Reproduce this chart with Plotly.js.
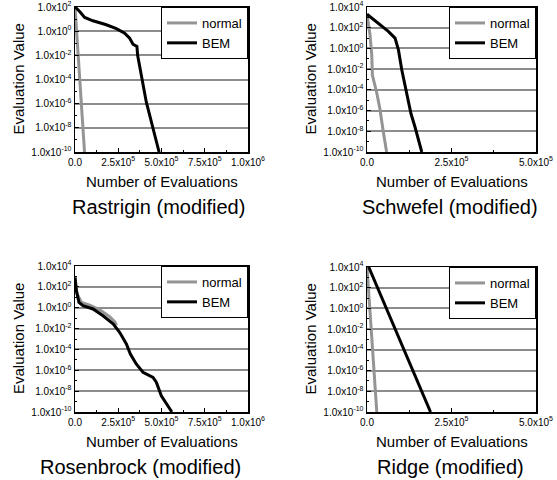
<!DOCTYPE html>
<html>
<head>
<meta charset="utf-8">
<script src="https://cdn.plot.ly/plotly-3.0.1.min.js"></script>
<style>html,body{margin:0;padding:0;background:#fff;}#chart{width:557px;height:480px;}</style>
</head>
<body>
<div id="chart"></div>
<script>
// ---- Data ----
const panelNames = ['Rastrigin (modified)', 'Schwefel (modified)', 'Rosenbrock (modified)', 'Ridge (modified)'];
const seriesNames = ['normal', 'BEM'];

const rastriginNormalX = [0, 55000];
const rastriginNormalY = [1e2, 1e-10];
const rastriginBemX = [0, 27000, 56000, 104000, 181000, 239000, 287000, 316000, 335000, 358000, 362000, 412000, 486000];
const rastriginBemY = [1e2, 42.7, 13.8, 7.2, 3.4, 1.6, 0.69, 0.26, 0.083, 0.054, 0.01, 1.4e-6, 1e-10];

const schwefelNormalX = [0, 8900, 14000, 16000, 29000, 38000, 48000, 58000];
const schwefelNormalY = [2000, 20, 0.25, 2.5e-3, 5e-5, 1.6e-6, 1e-8, 1e-10];
const schwefelBemX = [0, 33000, 63000, 83000, 93000, 103000, 112000, 122000, 130000, 142000, 162000];
const schwefelBemY = [2000, 280, 44, 10, 0.72, 8.3e-3, 2.9e-4, 6.9e-6, 5.2e-7, 2.6e-8, 1e-10];

const rosenbrockNormalX = [0, 12000, 37000, 85000, 143000, 200000, 230000, 240000];
const rosenbrockNormalY = [800, 21, 3.3, 1.8, 0.63, 0.14, 0.045, 0.02];
const rosenbrockBemX = [0, 7700, 23000, 46000, 104000, 162000, 220000, 258000, 297000, 320000, 354000, 393000, 451000, 470000, 499000, 560000];
const rosenbrockBemY = [800, 43, 3.3, 1.55, 0.76, 0.17, 0.028, 4.4e-3, 3.3e-4, 3.6e-5, 4e-6, 6.5e-7, 2.1e-7, 7.1e-8, 3.6e-9, 1e-10];

const ridgeNormalX = [0, 29000];
const ridgeNormalY = [1e4, 1e-10];
const ridgeBemX = [5000, 188000];
const ridgeBemY = [1e4, 1e-10];

// tick values / labels
const yTickVals4 = [1e4, 1e2, 1e0, 1e-2, 1e-4, 1e-6, 1e-8, 1e-10];
const yTickText4 = ['1.0x10<sup>4</sup>', '1.0x10<sup>2</sup>', '1.0x10<sup>0</sup>', '1.0x10<sup>-2</sup>', '1.0x10<sup>-4</sup>', '1.0x10<sup>-6</sup>', '1.0x10<sup>-8</sup>', '1.0x10<sup>-10</sup>'];
const yTickVals2 = [1e2, 1e0, 1e-2, 1e-4, 1e-6, 1e-8, 1e-10];
const yTickText2 = ['1.0x10<sup>2</sup>', '1.0x10<sup>0</sup>', '1.0x10<sup>-2</sup>', '1.0x10<sup>-4</sup>', '1.0x10<sup>-6</sup>', '1.0x10<sup>-8</sup>', '1.0x10<sup>-10</sup>'];
const yMinorVals = [1e3, 1e1, 1e-1, 1e-3, 1e-5, 1e-7, 1e-9];
const xTickVals1M = [0, 250000, 500000, 750000, 1000000];
const xTickText1M = ['0.0', '2.5x10<sup>5</sup>', '5.0x10<sup>5</sup>', '7.5x10<sup>5</sup>', '1.0x10<sup>6</sup>'];
const xMinor1M = [125000, 375000, 625000, 875000];
const xTickVals500k = [0, 250000, 500000];
const xTickText500k = ['0.0', '2.5x10<sup>5</sup>', '5.0x10<sup>5</sup>'];
const xMinor500k = [125000, 375000];

const xTitle = 'Number of Evaluations';
const yTitle = 'Evaluation Value';

// ---- Styling / layout ----
const W = 557, H = 480;
const FONT = 'Liberation Sans, Arial, sans-serif';
const grayCol = '#949494';
const panels = [
  {l: 75, r: 248, t: 7, b: 152, xmax: 1e6, ylo: -10, yhi: 2, xv: xTickVals1M, xt: xTickText1M, xm: xMinor1M, yv: yTickVals2, yt: yTickText2,
   data: [[rastriginNormalX, rastriginNormalY], [rastriginBemX, rastriginBemY]], ytx: 18, nameX: 158, nameY: 207, xtY: 181},
  {l: 367, r: 536, t: 7, b: 152, xmax: 5e5, ylo: -10, yhi: 4, xv: xTickVals500k, xt: xTickText500k, xm: xMinor500k, yv: yTickVals4, yt: yTickText4,
   data: [[schwefelNormalX, schwefelNormalY], [schwefelBemX, schwefelBemY]], ytx: 310, nameX: 450, nameY: 207, xtY: 181},
  {l: 75, r: 248, t: 266, b: 412, xmax: 1e6, ylo: -10, yhi: 4, xv: xTickVals1M, xt: xTickText1M, xm: xMinor1M, yv: yTickVals4, yt: yTickText4,
   data: [[rosenbrockNormalX, rosenbrockNormalY], [rosenbrockBemX, rosenbrockBemY]], ytx: 18, nameX: 140, nameY: 467, xtY: 441},
  {l: 367, r: 536, t: 267, b: 412, xmax: 5e5, ylo: -10, yhi: 4, xv: xTickVals500k, xt: xTickText500k, xm: xMinor500k, yv: yTickVals4, yt: yTickText4,
   data: [[ridgeNormalX, ridgeNormalY], [ridgeBemX, ridgeBemY]], ytx: 310, nameX: 450, nameY: 467, xtY: 441}
];

const traces = [];
const layout = {
  width: W, height: H, margin: {l: 0, r: 0, t: 0, b: 0}, showlegend: true,
  paper_bgcolor: '#fff', plot_bgcolor: '#fff',
  font: {family: FONT, color: '#000'},
  annotations: []
};

panels.forEach((p, i) => {
  const n = i === 0 ? '' : String(i + 1);
  const legName = 'legend' + n;
  const colors = [grayCol, '#000000'];
  p.data.forEach((d, k) => {
    traces.push({
      x: d[0], y: d[1], type: 'scatter', mode: 'lines', name: seriesNames[k],
      line: {color: colors[k], width: 3},
      xaxis: 'x' + n, yaxis: 'y' + n, legend: legName
    });
  });
  layout['xaxis' + n] = {
    domain: [p.l / W, p.r / W], anchor: 'y' + n, range: [0, p.xmax],
    showline: true, mirror: true, linecolor: '#000', linewidth: 1.5,
    showgrid: false, zeroline: false,
    ticks: 'inside', ticklen: 4, tickcolor: '#000', tickwidth: 1,
    tickmode: 'array', tickvals: p.xv, ticktext: p.xt,
    tickfont: {size: 10, family: FONT, color: '#000'},
    minor: {tickmode: 'array', tickvals: p.xm, ticks: 'inside', ticklen: 2, tickcolor: '#000', showgrid: false}
  };
  layout['yaxis' + n] = {
    domain: [1 - p.b / H, 1 - p.t / H], anchor: 'x' + n, type: 'log', range: [p.ylo, p.yhi],
    showline: true, mirror: true, linecolor: '#000', linewidth: 1.5,
    showgrid: true, gridcolor: '#8c8c8c', gridwidth: 2, zeroline: false,
    ticks: 'inside', ticklen: 4, tickcolor: '#000', tickwidth: 1,
    tickmode: 'array', tickvals: p.yv, ticktext: p.yt,
    tickfont: {size: 10, family: FONT, color: '#000'},
    minor: {tickmode: 'array', tickvals: yMinorVals, ticks: 'inside', ticklen: 2, tickcolor: '#000', showgrid: false}
  };
  layout[legName] = {
    x: p.r / W, xanchor: 'right', y: 1 - p.t / H, yanchor: 'top',
    xref: 'paper', yref: 'paper',
    bgcolor: '#fff', bordercolor: '#000', borderwidth: 1,
    font: {size: 13, family: FONT, color: '#000'}, tracegroupgap: 0
  };
  layout.annotations.push(
    {text: yTitle, xref: 'paper', yref: 'paper', x: p.ytx / W, y: 1 - ((p.t + p.b) / 2) / H,
     xanchor: 'center', yanchor: 'middle', textangle: -90, showarrow: false, font: {size: 15, family: FONT, color: '#000'}},
    {text: xTitle, xref: 'paper', yref: 'paper', x: (p.l + p.r) / 2 / W, y: 1 - p.xtY / H,
     xanchor: 'center', yanchor: 'middle', showarrow: false, font: {size: 15, family: FONT, color: '#000'}},
    {text: panelNames[i], xref: 'paper', yref: 'paper', x: p.nameX / W, y: 1 - p.nameY / H,
     xanchor: 'center', yanchor: 'middle', showarrow: false, font: {size: 20, family: FONT, color: '#000'}}
  );
});

Plotly.newPlot('chart', traces, layout, {staticPlot: true, displayModeBar: false});
</script>
</body>
</html>
